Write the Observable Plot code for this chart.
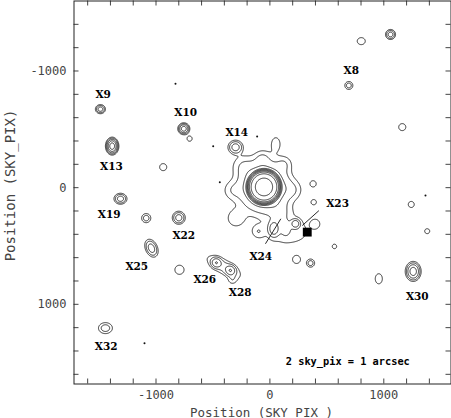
<!DOCTYPE html>
<html><head><meta charset="utf-8">
<script src="https://cdn.jsdelivr.net/npm/d3@7"></script>
<script src="https://cdn.jsdelivr.net/npm/@observablehq/plot@0.6"></script>
<style>html,body{margin:0;padding:0;background:#fff;}</style>
</head><body><div id="chart"></div>
<script>
// ---- Data (sky pixel coordinates) ----
// Sources: centre x, centre y, number of contour rings, outer-contour half widths (x, y), tilt (deg)
const srcX     = [1059, 802, 693, 1162, -1488, -756, -705, -1385, -302, 52, -937, 380, 1241, -1312, -1086, -800, -1040, -794, -471, -346, -405, -330, 34, 137, 225, -103, 400, 160, 567, 234, 357, 956, 1381, 1258, -1444, 385, -302, -329, -241, -65, 125, 200, 93, -52];
const srcY     = [-1313, -1256, -876, -519, -673, -505, -420, -356, -347, -376, -176, -33, 144, 95, 261, 258, 519, 704, 643, 710, 678, 790, 352, 351, 309, 375, 309, 375, 504, 618, 647, 781, 373, 718, 1204, 124, 262, 24, -190, -255, -205, 20, 213, -6];
const srcRings = [3, 1, 2, 1, 3, 4, 1, 5, 3, 1, 1, 1, 1, 3, 2, 3, 3, 1, 3, 3, 2, 1, 3, 1, 3, 1, 1, 1, 1, 1, 2, 1, 1, 4, 2, 1, 1, 1, 1, 1, 1, 1, 1, 4];
const srcRx    = [44, 35, 35, 31, 44, 53, 22, 59, 66, 35, 31, 26, 26, 57, 40, 57, 53, 40, 48, 48, 160, 26, 53, 26, 44, 35, 26, 160, 18, 31, 35, 31, 22, 70, 61, 22, 61, 53, 61, 44, 44, 53, 61, 263];
const srcRy    = [43, 30, 34, 30, 39, 51, 22, 77, 60, 51, 30, 26, 26, 47, 39, 56, 81, 39, 47, 47, 60, 26, 73, 39, 43, 34, 26, 95, 18, 30, 34, 43, 21, 86, 47, 21, 60, 51, 60, 43, 43, 51, 60, 257];
const srcAngle = [0, 0, 0, 0, 0, 0, 0, 0, 0, 0, 0, 0, 0, 0, 0, 0, -25, 0, 0, 0, 28, 0, 0, 0, 0, 0, 0, 0, 0, 0, 0, 0, 0, 0, 0, 0, 0, 0, 0, 0, 0, 0, 0, 0];

// Bright central (piled-up) source
const coreX = -52, coreY = -6;
const coreAmp = 512, coreRadius = 120, coreShape = 5.8, dipAmp = 330, dipRadius = 90;

// Contour levels
const levels = [1, 2, 4, 8, 16, 32, 64, 128, 256];

// Faint point-like detections
const dotX = [-829, -112, -498, -440, 1366, -1101];
const dotY = [-891, -439, -356, -47, 67, 1333];

// Marked position (filled square)
const squareX = [328], squareY = [381];

// Source labels
const labelText = ["X8", "X9", "X10", "X14", "X13", "X19", "X22", "X23", "X24", "X25", "X26", "X28", "X30", "X32"];
const labelX    = [714, -1464, -739, -291, -1391, -1411, -756, 594, -80, -1169, -572, -261, 1294, -1438];
const labelY    = [-1005, -801, -642, -476, -184, 230, 410, 138, 590, 673, 787, 896, 933, 1359];

// Pointer lines for X23 and X24
const ptrX1 = [430, 96], ptrY1 = [197, 267];
const ptrX2 = [284, -39], ptrY2 = [325, 481];

// Scale note
const noteText = ["2 sky_pix = 1 arcsec"], noteX = [684], noteY = [1488];

// Axes
const xDomain = [-1720, 1590], yDomain = [-1600, 1683];
const xTicks = [-1600, -1400, -1200, -1000, -800, -600, -400, -200, 0, 200, 400, 600, 800, 1000, 1200, 1400];
const yTicks = [-1400, -1200, -1000, -800, -600, -400, -200, 0, 200, 400, 600, 800, 1000, 1200, 1400, 1600];
const xTickLabels = [-1000, 0, 1000];
const yTickLabels = [-1000, 0, 1000];
const xTitle = "Position (SKY_PIX )", yTitle = "Position (SKY_PIX)";

// ---- Model field built from the source list ----
const N = srcX.length;
const amp = srcRings.map(n => 1.5 * Math.pow(2, n - 1));
const sgx = srcRx.map((r, i) => r / Math.sqrt(2 * Math.log(amp[i])));
const sgy = srcRy.map((r, i) => r / Math.sqrt(2 * Math.log(amp[i])));
const ca = srcAngle.map(a => Math.cos(a * Math.PI / 180));
const sa = srcAngle.map(a => Math.sin(a * Math.PI / 180));
function field(x, y) {
  let v = 0;
  for (let i = 0; i < N; i++) {
    const dx = x - srcX[i], dy = y - srcY[i];
    const u = dx * ca[i] + dy * sa[i], w = -dx * sa[i] + dy * ca[i];
    const q = (u * u) / (sgx[i] * sgx[i]) + (w * w) / (sgy[i] * sgy[i]);
    if (q < 60) v += amp[i] * Math.exp(-q / 2);
  }
  const r = Math.hypot(x - coreX, y - coreY);
  if (r < 400) v += coreAmp * Math.exp(-Math.pow(r / coreRadius, coreShape)) - dipAmp * Math.exp(-Math.pow(r / dipRadius, 6));
  return v;
}

const W = 451, H = 418;
const mL = 73.5, mR = 0.5, mT = 0.5, mB = 34.5;
const fw = W - mL - mR, fh = H - mT - mB;

const labels = labelText.map((t, i) => ({t, x: labelX[i], y: labelY[i]}));
const ptrs = ptrX1.map((d, i) => ({x1: ptrX1[i], y1: ptrY1[i], x2: ptrX2[i], y2: ptrY2[i]}));
const dots = dotX.map((d, i) => ({x: dotX[i], y: dotY[i]}));
const squares = squareX.map((d, i) => ({x: squareX[i], y: squareY[i]}));
const notes = noteText.map((t, i) => ({t, x: noteX[i], y: noteY[i]}));

const axisFont = "DejaVu Sans Mono";
const chart = Plot.plot({
  width: W, height: H,
  marginLeft: mL, marginRight: mR, marginTop: mT, marginBottom: mB,
  style: {background: "#fff", fontFamily: axisFont},
  x: {domain: xDomain, axis: null},
  y: {domain: yDomain, reverse: true, axis: null},
  marks: [
    Plot.contour({value: field, x1: xDomain[0], x2: xDomain[1], y1: yDomain[0], y2: yDomain[1],
      thresholds: levels, pixelSize: 0.5, stroke: "#111", fill: "none", strokeWidth: 0.85}),
    Plot.dot(dots, {x: "x", y: "y", r: 1, fill: "#111"}),
    Plot.dot(squares, {x: "x", y: "y", r: 5, symbol: "square", fill: "#000"}),
    Plot.link(ptrs, {x1: "x1", y1: "y1", x2: "x2", y2: "y2", stroke: "#111", strokeWidth: 0.9}),
    Plot.text(labels, {x: "x", y: "y", text: "t", fontFamily: "DejaVu Serif", fontWeight: "bold", fontSize: 10.5, fill: "#000"}),
    Plot.text(notes, {x: "x", y: "y", text: "t", fontFamily: "DejaVu Sans Mono", fontWeight: "bold", fontSize: 10.3, fill: "#000"}),
    Plot.tickX(xTicks, {x: d => d, insetTop: fh - 5, stroke: "#444"}),
    Plot.tickX(xTicks, {x: d => d, insetBottom: fh - 5, stroke: "#444"}),
    Plot.tickY(yTicks, {y: d => d, insetRight: fw - 5, stroke: "#444"}),
    Plot.tickY(yTicks, {y: d => d, insetLeft: fw - 5, stroke: "#444"}),
    Plot.frame({stroke: "#222", strokeWidth: 1}),
    Plot.text(xTickLabels, {x: d => d, text: d => String(d), frameAnchor: "bottom", lineAnchor: "middle", dy: 11.5, fontSize: 12, fill: "#444"}),
    Plot.text(yTickLabels, {y: d => d, text: d => String(d), frameAnchor: "left", textAnchor: "end", dx: -7.5, fontSize: 12, fill: "#444"}),
    Plot.text([xTitle], {text: d => d, frameAnchor: "bottom", lineAnchor: "middle", dy: 28.5, dx: -1, fontSize: 12.5, fill: "#444"}),
    Plot.text([yTitle], {text: d => d, frameAnchor: "left", textAnchor: "middle", rotate: -90, lineAnchor: "middle", dx: -63, dy: -7, fontSize: 14, fill: "#444"})
  ]
});
document.getElementById("chart").appendChild(chart);
</script>
</body></html>
